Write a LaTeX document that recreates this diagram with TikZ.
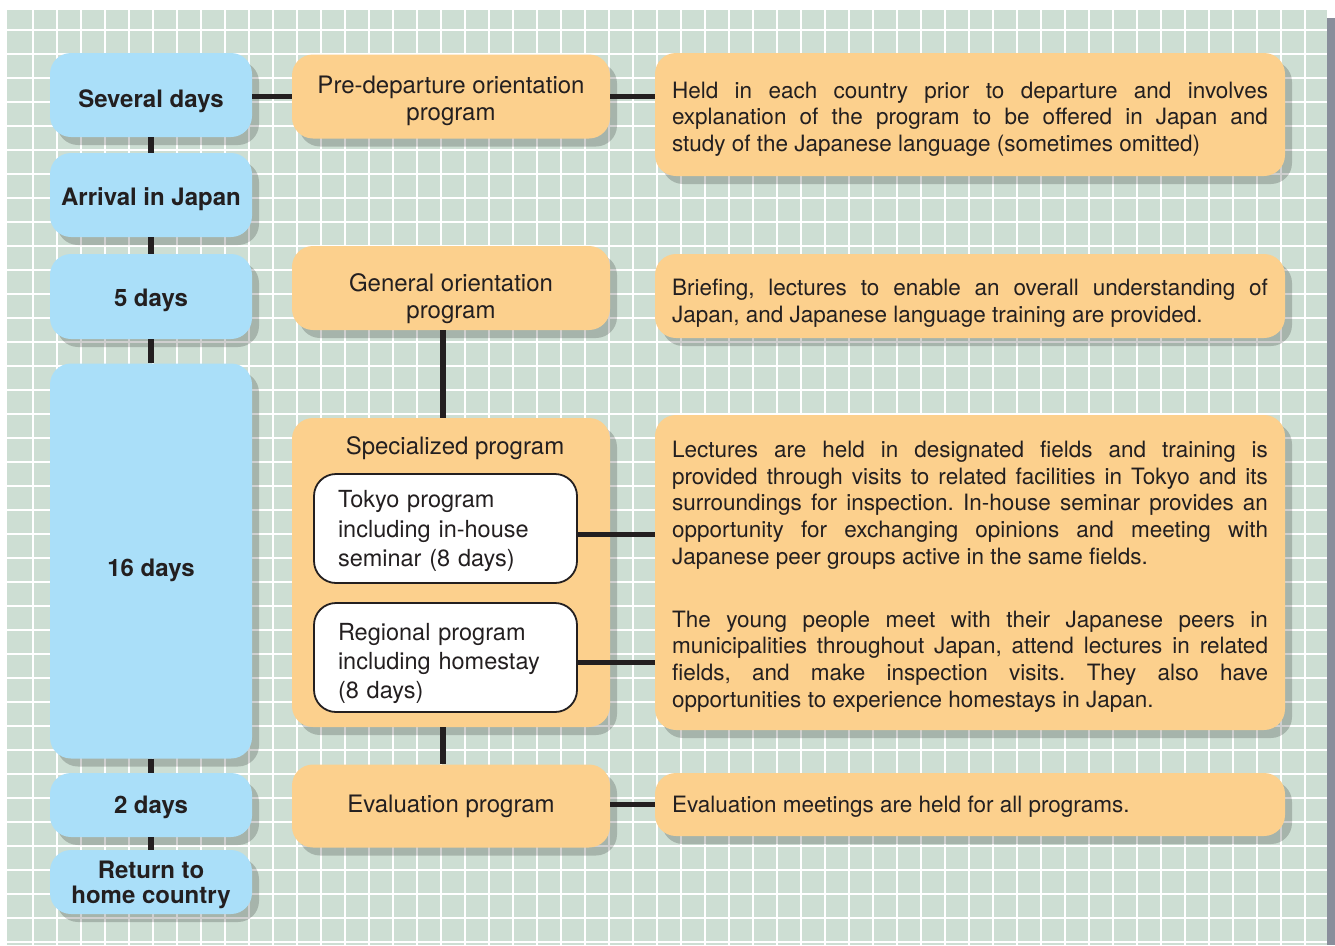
\documentclass[tikz,border=0pt]{standalone}
\usepackage{fontspec}
\setmainfont{TeX Gyre Heros}
\usetikzlibrary{shadows,calc}
\definecolor{Paper}{RGB}{205,222,211}
\definecolor{Sky}{RGB}{170,223,249}
\definecolor{Peach}{RGB}{252,208,141}
\definecolor{Ink}{RGB}{35,31,32}
\definecolor{Rim}{RGB}{137,142,155}
\newcommand\nudge[1]{\rule{0pt}{\dimexpr.74em+#1*2\relax}}
\frenchspacing

\begin{document}
\begin{tikzpicture}[x=1pt,y=-1pt,
    box/.style={rounded corners=21pt,inner sep=0pt,text=Ink,
      drop shadow={fill=black,opacity=.19,shadow xshift=7pt,shadow yshift=-8pt}},
    day/.style={box,fill=Sky,minimum width=202pt,align=center,text depth=0pt,
      font=\bfseries\fontsize{24}{24.5}\selectfont},
    prog/.style={box,fill=Peach,minimum width=318pt,align=center,font=\fontsize{24}{27}\selectfont},
    note/.style={box,fill=Peach,minimum width=630pt,text width=596pt,inner xsep=17pt,
      align=justify,font=\fontsize{22.5}{26.7}\selectfont},
    sub/.style={draw=Ink,line width=1.8pt,fill=white,rounded corners=22pt,minimum width=263pt,
      text width=215pt,inner xsep=24pt,align=left,text=Ink,font=\fontsize{23.5}{29.3}\selectfont},
    link/.style={draw=Ink,line width=5.5pt},
    gridline/.style={white,line width=1.6pt}]
  \useasboundingbox (0,0) rectangle (1335,945);
  \fill[Paper] (7,10) rectangle (1327,945);\fill[Rim] (1327,18) rectangle (1335,945);
  \foreach \i in {0,...,53} \draw[gridline] ({33+24*\i},10) -- ({33+24*\i},945);
  \foreach \j in {0,...,38} \draw[gridline] (7,{30+24*\j}) -- (1327,{30+24*\j});

  \node[day,minimum height=84pt] (sev) at (151,95) {\nudge{4pt}Several days};
  \node[day,minimum height=84pt] (arr) at (151,195) {\nudge{2pt}Arrival in Japan};
  \node[day,minimum height=85pt] (five) at (151,296.5) {\nudge{1pt}5 days};
  \node[day,minimum height=395pt] (sixteen) at (151,561) {\nudge{7pt}16 days};
  \node[day,minimum height=64pt] (two) at (151,805) {2 days};
  \node[day,minimum height=64pt] (home) at (151,882) {Return to\\home country};

  \node[prog,minimum height=84pt] (pre) at (451,96.5) {\nudge{4.5pt}Pre-departure orientation\\program};
  \node[prog,minimum height=84pt] (gen) at (451,288) {\nudge{11pt}General orientation\\program};
  \node[prog,minimum height=309pt,label={[font=\fontsize{24}{27}\selectfont,text=Ink,inner sep=0pt,
    anchor=base,xshift=4pt,yshift=-37pt]north:Specialized program}] (spec) at (451,572.5) {};
  \node[prog,minimum height=83pt] (eval) at (451,806) {Evaluation program};
  \node[sub,minimum height=109pt] (tokyo) at (445.5,528.5) {\nudge{2.5pt}Tokyo program\\including in-house\\seminar (8 days)};
  \node[sub,minimum height=109pt] (region) at (445.5,657.5) {\nudge{6pt}Regional program\\including homestay\\(8 days)};

  \node[note,minimum height=123pt] (held) at (970,114.5) {\nudge{4.5pt}Held in each country prior to departure and involves\linebreak
    explanation of the program to be offered in Japan and\linebreak study of the Japanese language (sometimes omitted)};
  \node[note,minimum height=84pt] (brief) at (970,296) {\nudge{7pt}Briefing, lectures to enable an overall understanding of\linebreak
    Japan, and Japanese language training are provided.};
  \node[note,minimum height=315pt] (lect) at (970,572.5) {\nudge{4pt}Lectures are held in designated fields and training is\linebreak
    provided through visits to related facilities in Tokyo and its\linebreak
    surroundings for inspection. In-house seminar provides an\linebreak
    opportunity for exchanging opinions and meeting with\linebreak
    Japanese peer groups active in the same fields.\par\vspace{36pt}
    The young people meet with their Japanese peers in\linebreak
    municipalities throughout Japan, attend lectures in related\linebreak
    fields, and make inspection visits. They also have\linebreak
    opportunities to experience homestays in Japan.};
  \node[note,minimum height=63pt] (evm) at (970,804.5) {\nudge{2pt}Evaluation meetings are held for all programs.};

  \draw[link] (sev.south) -- (arr.north) (arr.south) -- (five.north) (five.south) -- (sixteen.north)
    (sixteen.south) -- (two.north) (two.south) -- (home.north);
  \draw[link] (sev.east |- pre.west) -- (pre.west) (pre.east) -- (pre.east -| held.west);
  \draw[link] ($(gen.south)+(-8,0)$) -- ($(spec.north)+(-8,0)$) ($(spec.south)+(-8,0)$) -- ($(eval.north)+(-8,0)$);
  \draw[link] ($(tokyo.east)+(0,6)$) -- ($(tokyo.east -| lect.west)+(0,6)$)
    ($(region.east)+(0,5)$) -- ($(region.east -| lect.west)+(0,5)$);
  \draw[link] (evm.west -| eval.east) -- (evm.west);
\end{tikzpicture}
\end{document}
